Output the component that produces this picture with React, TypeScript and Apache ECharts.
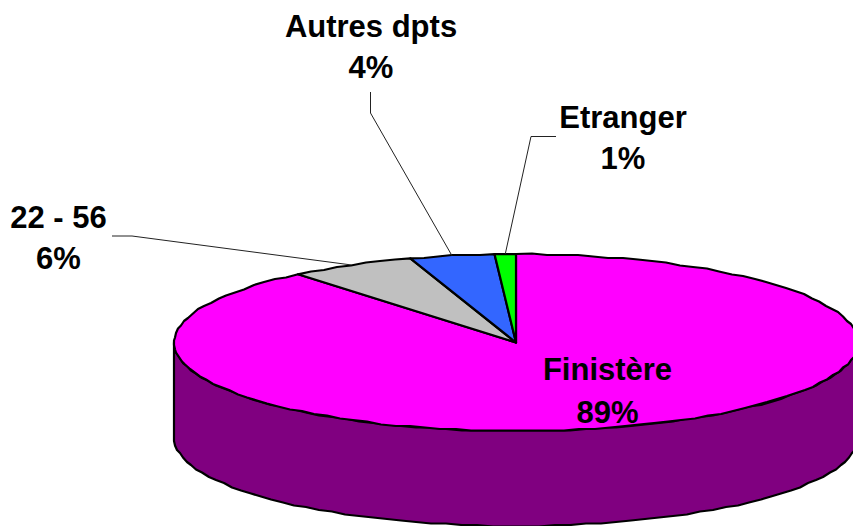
import React, { useEffect, useRef } from "react";
import * as echarts from "echarts";

const categories = ["Finistère", "22 - 56", "Autres dpts", "Etranger"];
const shares = [89, 6, 4, 1];
const colors = ["#FF00FF", "#C0C0C0", "#3366FF", "#00FF00"];

const CX = 516;
const CY = 342.5;
const RX = 342;
const RY = 88.5;
const DEPTH = 95;
const WALL = "#800080";
const STEP = 2.6;

// Label layout per slice: centre of text, line spacing, and leader-line route (null: no leader)
const labelPos = [[607.5, 391], [58.5, 238], [371, 46.5], [623, 137.5]];
const labelLineHeight = [43, 41, 41, 41];
const leaders: (number[][] | null)[] = [
  null,
  [[112, 236], [132, 236]],
  [[370.5, 92], [370.5, 113]],
  [[556, 136.5], [531, 136.5]],
];

const total = shares.reduce((a, b) => a + b, 0);
const starts = shares.map((_, i) => shares.slice(0, i).reduce((a, b) => a + b, 0));

const pt = (deg: number, dy = 0) => {
  const r = (deg * Math.PI) / 180;
  return [CX + RX * Math.sin(r), CY - RY * Math.cos(r) + dy];
};

const arc = (from: number, to: number, dy = 0) => {
  const pts: number[][] = [];
  const n = Math.max(1, Math.round((to - from) / STEP));
  for (let i = 0; i <= n; i++) {
    const [x, y] = pt(from + ((to - from) * i) / n, dy);
    // the reference outline is faceted on a coarse pixel grid
    pts.push(i === 0 || i === n ? [x, y] : [Math.round(x), Math.round(y / 1.5) * 1.5]);
  }
  return pts;
};

const renderItem = (params: any, api: any) => {
  const i = params.dataIndex;
  const value = api.value(0);
  const a0 = (starts[i] / total) * 360;
  const a1 = a0 + (value / total) * 360;
  const mid = (a0 + a1) / 2;
  const children: any[] = [];
  if (i === 0) {
    children.push({
      type: "polygon",
      shape: { points: [...arc(90, 270), ...arc(90, 270, DEPTH).reverse()] },
      style: { fill: WALL, stroke: "#000", lineWidth: 2.2, lineJoin: "round" },
    });
  }
  children.push({
    type: "polygon",
    shape: { points: [[CX, CY], ...arc(a0, a1)] },
    style: { fill: colors[i], stroke: "#000", lineWidth: 2.2, lineJoin: "round" },
  });
  const route = leaders[i];
  if (route) {
    children.push({
      type: "polyline",
      shape: { points: [...route, pt(mid)] },
      style: { fill: "none", stroke: "#222", lineWidth: 1 },
    });
  }
  children.push({
    type: "text",
    style: {
      x: labelPos[i][0],
      y: labelPos[i][1],
      text: `${categories[i]}\n${value}%`,
      fill: "#000",
      font: 'bold 31px "Liberation Sans", Arial, sans-serif',
      lineHeight: labelLineHeight[i],
      align: "center",
      verticalAlign: "middle",
    },
  });
  return { type: "group", children };
};

export default function App() {
  const ref = useRef<HTMLDivElement>(null);
  useEffect(() => {
    const chart = echarts.init(ref.current!, null, { renderer: "svg" });
    chart.setOption({
      animation: false,
      backgroundColor: "#fff",
      series: [
        {
          type: "custom",
          coordinateSystem: "none",
          renderItem,
          clip: false,
          data: shares.map((v, i) => ({ name: categories[i], value: [v] })),
        },
      ],
    });
    return () => chart.dispose();
  }, []);
  return (
    <div
      ref={ref}
      style={{ position: "absolute", left: 0, top: 0, width: 853, height: 526, overflow: "hidden" }}
    />
  );
}
